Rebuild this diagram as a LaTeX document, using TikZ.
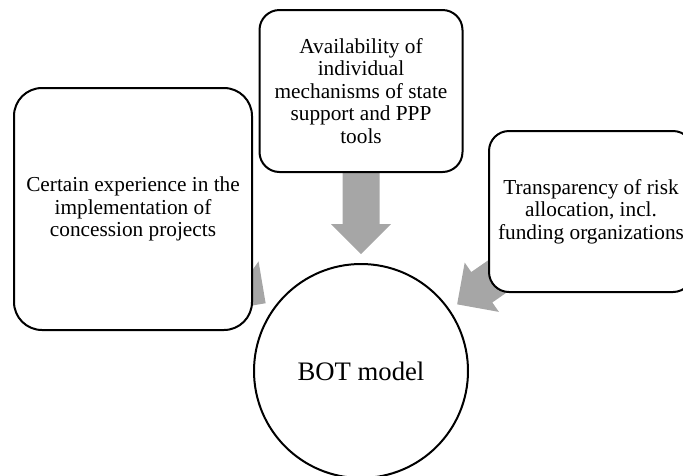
\documentclass[tikz,border=0pt]{standalone}
\usepackage{fontspec}
\setmainfont{Liberation Serif}
\usetikzlibrary{calc,backgrounds}
\definecolor{arrowgray}{RGB}{166,166,166}
\newcommand\blockarr[2]{%
  \coordinate (t) at ($(#2)!117pt!(#1)$);
  \coordinate (h) at ($(#2)!147pt!(#1)$);
  \coordinate (e) at ($(#2)!230pt!(#1)$);
  \fill[arrowfill] (t) -- ($(h)!30pt!90:(#1)$) -- ($(h)!18.5pt!90:(#1)$)
    -- ($(e)!18.5pt!90:(#1)$) -- ($(e)!18.5pt!-90:(#1)$)
    -- ($(h)!18.5pt!-90:(#1)$) -- ($(h)!30pt!-90:(#1)$) -- cycle;}
\begin{document}
\begin{tikzpicture}[x=1pt,y=-1pt,
  box/.style={draw=black, line width=2pt, fill=white, rounded corners=20pt,
    align=center, inner sep=0pt, font=\fontsize{21.3}{22.5}\selectfont},
  hub/.style={circle, draw=black, line width=2pt, fill=white,
    minimum size=214pt, inner sep=0pt, font=\fontsize{26.7}{30}\selectfont},
  arrowfill/.style={fill=arrowgray}]
\useasboundingbox (0,0) rectangle (683,475);
\clip (0,0) rectangle (683,475);
\node[hub] (bot) at (361,371) {BOT model};
\node[box, rounded corners=28pt, minimum width=238pt, minimum height=242pt] (exp) at (133,209)
  {Certain experience in the\\implementation of\\concession projects};
\node[box, minimum width=203pt, minimum height=162pt] (avail) at (361,91)
  {Availability of\\individual\\mechanisms of state\\support and PPP\\tools};
\node[box, minimum width=204pt, minimum height=161pt] (trans) at (591,211.5)
  {Transparency of risk\\allocation, incl.\\funding organizations};
\begin{pgfonlayer}{background}
  \blockarr{exp}{bot}
  \blockarr{avail}{bot}
  \blockarr{trans}{bot}
\end{pgfonlayer}
\end{tikzpicture}
\end{document}
